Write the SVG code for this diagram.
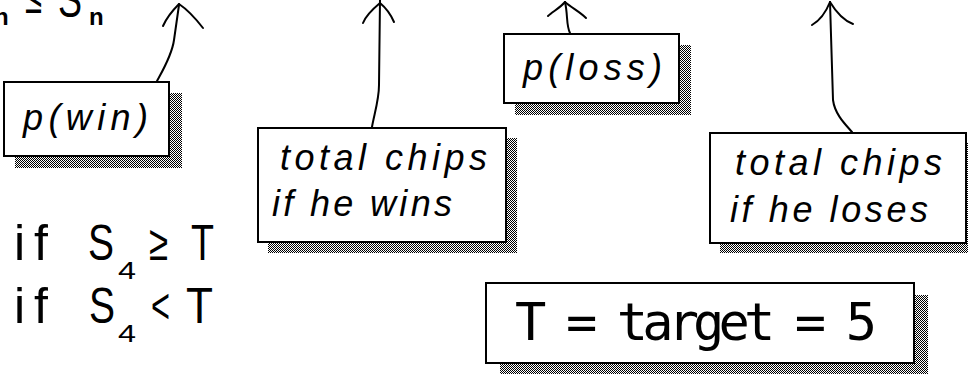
<svg xmlns="http://www.w3.org/2000/svg" width="968" height="375" viewBox="0 0 968 375">
  <defs>
    <pattern id="dither" width="2" height="2" patternUnits="userSpaceOnUse">
      <rect x="0" y="0" width="1" height="1" fill="#000"/>
      <rect x="1" y="1" width="1" height="1" fill="#000"/>
    </pattern>
  </defs>
  <style>
    .box { fill: #fff; stroke: #000; stroke-width: 2; }
    .shadow { fill: url(#dither); }
    .lbl { font-family: "Liberation Sans", Arial, sans-serif; font-style: italic; font-size: 36px; fill: #000; }
    .math { font-family: "Liberation Sans", Arial, sans-serif; font-size: 50px; fill: #000; }
    .sub { font-family: "Liberation Sans", Arial, sans-serif; font-size: 24px; fill: #000; }
    .subb { font-family: "Liberation Sans", Arial, sans-serif; font-size: 24px; font-weight: bold; fill: #000; }
    .mono { font-family: "DejaVu Sans Mono", "Liberation Mono", monospace; font-size: 52px; fill: #000; }
    .conn path { fill: none; stroke: #000; stroke-width: 2; stroke-linecap: round; stroke-linejoin: round; }
  </style>
  <rect width="968" height="375" fill="#fff"/>

  <!-- cropped top-left formula -->
  <g id="formula-top">
    <text class="subb" x="-6" y="25">n</text>
    <text class="math" x="25" y="13" font-size="40" textLength="17" lengthAdjust="spacingAndGlyphs">≤</text>
    <text class="math" x="58" y="17" textLength="24" lengthAdjust="spacingAndGlyphs">S</text>
    <text class="subb" x="89" y="25">n</text>
  </g>

  <!-- conditions -->
  <g id="cond-1">
    <text class="math" y="260"><tspan x="14">i</tspan><tspan x="34">f</tspan></text>
    <text class="math" x="88" y="260" textLength="26" lengthAdjust="spacingAndGlyphs">S</text>
    <text class="sub" x="118" y="279" textLength="18" lengthAdjust="spacingAndGlyphs">4</text>
    <text class="math" x="149" y="260" font-size="40" textLength="19" lengthAdjust="spacingAndGlyphs">≥</text>
    <text class="math" x="191" y="260" textLength="23" lengthAdjust="spacingAndGlyphs">T</text>
  </g>
  <g id="cond-2">
    <text class="math" y="323"><tspan x="14">i</tspan><tspan x="34">f</tspan></text>
    <text class="math" x="89" y="323" textLength="26" lengthAdjust="spacingAndGlyphs">S</text>
    <text class="sub" x="118" y="342" textLength="18" lengthAdjust="spacingAndGlyphs">4</text>
    <text class="math" x="151" y="323" font-size="40" textLength="19" lengthAdjust="spacingAndGlyphs">&lt;</text>
    <text class="math" x="186" y="323" textLength="27" lengthAdjust="spacingAndGlyphs">T</text>
  </g>

  <!-- connectors -->
  <g id="connectors" class="conn">
    <path d="M157,81 C163,70 172,55 174,40 L179,5"/>
    <path d="M179,4 C173,10 167,17 163,26"/>
    <path d="M179,4 C188,10 196,19 203,28"/>

    <path d="M372,127 C374,115 379,100 379,85 L380,0"/>
    <path d="M380,3 C374,8 366,15 363,23"/>
    <path d="M380,3 C386,8 391,15 394,22"/>

    <path d="M570,33 C566,25 568,15 565,2"/>
    <path d="M565,2 C560,8 552,12 548,16"/>
    <path d="M565,2 C572,8 580,12 586,18"/>

    <path d="M852,132 C846,125 835,115 833,100 L831,35 L830,2"/>
    <path d="M830,2 C826,12 819,21 812,25"/>
    <path d="M830,2 C836,12 845,21 853,24"/>
  </g>

  <g id="node-pwin">
    <rect class="shadow" x="15" y="93" width="167" height="75"/>
    <rect class="box" x="4" y="82" width="165" height="74"/>
    <text class="lbl" x="23" y="130" textLength="125" lengthAdjust="spacing">p(win)</text>
  </g>

  <g id="node-ploss">
    <rect class="shadow" x="515" y="45" width="176" height="70"/>
    <rect class="box" x="504" y="34" width="175" height="69"/>
    <text class="lbl" x="523" y="80" textLength="139" lengthAdjust="spacing">p(loss)</text>
  </g>

  <g id="node-wins">
    <rect class="shadow" x="268" y="138" width="249" height="115"/>
    <rect class="box" x="258" y="128" width="248" height="114"/>
    <text class="lbl" x="280" y="170" textLength="207" lengthAdjust="spacing">total chips</text>
    <text class="lbl" x="272" y="216" textLength="180" lengthAdjust="spacing">if he wins</text>
  </g>

  <g id="node-loses">
    <rect class="shadow" x="720" y="143" width="260" height="110"/>
    <rect class="box" x="710" y="133" width="256" height="110"/>
    <text class="lbl" x="735" y="175" textLength="207" lengthAdjust="spacing">total chips</text>
    <text class="lbl" x="730" y="222" textLength="198" lengthAdjust="spacing">if he loses</text>
  </g>

  <g id="node-target">
    <rect class="shadow" x="500" y="295" width="428" height="79"/>
    <rect class="box" x="486" y="283" width="428" height="80"/>
    <text class="mono" x="515" y="340" textLength="362" lengthAdjust="spacing">T = target = 5</text>
  </g>
</svg>
